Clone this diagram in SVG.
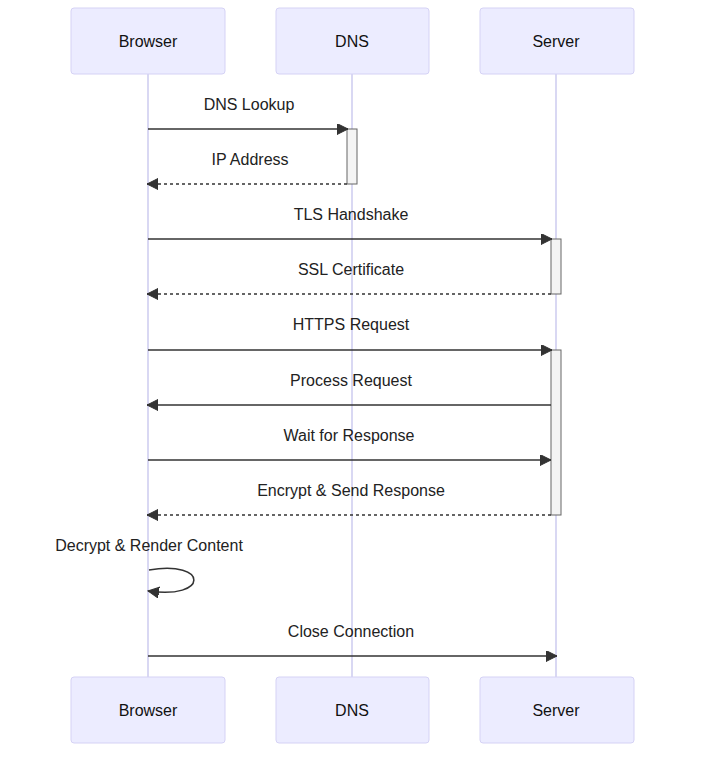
<svg xmlns="http://www.w3.org/2000/svg" width="720" height="775" viewBox="0 0 720 775">
<style>
text{font-family:"Liberation Sans",Arial,sans-serif;fill:#333;}
.actor{fill:#ECECFF;stroke:#D5D2F5;stroke-width:1;}
.atext{font-size:16px;text-anchor:middle;dominant-baseline:central;fill:#111;}
.life{stroke:#CDCBEF;stroke-width:1.5;}
.msg{stroke:#333;stroke-width:1.5;fill:none;}
.dash{stroke-dasharray:3,3;}
.mtext{font-size:16px;text-anchor:middle;dominant-baseline:central;fill:#222;}
.act{fill:#F4F4F4;stroke:#666;stroke-width:1;}
</style>
<defs>
<marker id="arrow" markerUnits="userSpaceOnUse" markerWidth="14" markerHeight="14" refX="11" refY="5.5" orient="auto">
<path d="M0,0 L11,5.5 L0,11 z" fill="#333" stroke="#333" stroke-width="1"/>
</marker>
</defs>
<rect width="720" height="775" fill="#fff"/>
<g id="lifelines">
<line class="life" x1="148" y1="74" x2="148" y2="677"/>
<line class="life" x1="352" y1="74" x2="352" y2="677"/>
<line class="life" x1="556" y1="74" x2="556" y2="677"/>
</g>
<g id="actor-browser-top"><rect class="actor" x="71" y="8" width="154" height="66" rx="3"/><text class="atext" x="148" y="41">Browser</text></g>
<g id="actor-dns-top"><rect class="actor" x="276" y="8" width="153" height="66" rx="3"/><text class="atext" x="352" y="41">DNS</text></g>
<g id="actor-server-top"><rect class="actor" x="480" y="8" width="154" height="66" rx="3"/><text class="atext" x="556" y="41">Server</text></g>
<g id="actor-browser-bottom"><rect class="actor" x="71" y="677" width="154" height="66" rx="3"/><text class="atext" x="148" y="710">Browser</text></g>
<g id="actor-dns-bottom"><rect class="actor" x="276" y="677" width="153" height="66" rx="3"/><text class="atext" x="352" y="710">DNS</text></g>
<g id="actor-server-bottom"><rect class="actor" x="480" y="677" width="154" height="66" rx="3"/><text class="atext" x="556" y="710">Server</text></g>
<g id="activations">
<rect class="act" x="347" y="129" width="10" height="55"/>
<rect class="act" x="551" y="239" width="10" height="55"/>
<rect class="act" x="551" y="350" width="10" height="165"/>
</g>
<g id="connectors">
<line class="msg" x1="148" y1="129" x2="348" y2="129" marker-end="url(#arrow)"/>
<line class="msg dash" x1="347" y1="184" x2="147" y2="184" marker-end="url(#arrow)"/>
<line class="msg" x1="148" y1="239" x2="552" y2="239" marker-end="url(#arrow)"/>
<line class="msg dash" x1="551" y1="294" x2="147" y2="294" marker-end="url(#arrow)"/>
<line class="msg" x1="148" y1="350" x2="552" y2="350" marker-end="url(#arrow)"/>
<line class="msg" x1="551" y1="405" x2="147" y2="405" marker-end="url(#arrow)"/>
<line class="msg" x1="148" y1="460" x2="551" y2="460" marker-end="url(#arrow)"/>
<line class="msg dash" x1="551" y1="515" x2="147" y2="515" marker-end="url(#arrow)"/>
<path class="msg" d="M149,570 C209,560 209,600 148,591" marker-end="url(#arrow)"/>
<line class="msg" x1="148" y1="656" x2="557" y2="656" marker-end="url(#arrow)"/>
</g>
<g id="labels">
<text class="mtext" x="249" y="104">DNS Lookup</text>
<text class="mtext" x="250" y="159">IP Address</text>
<text class="mtext" x="351" y="214">TLS Handshake</text>
<text class="mtext" x="351" y="269">SSL Certificate</text>
<text class="mtext" x="351" y="324">HTTPS Request</text>
<text class="mtext" x="351" y="380">Process Request</text>
<text class="mtext" x="349" y="435">Wait for Response</text>
<text class="mtext" x="351" y="490">Encrypt &amp; Send Response</text>
<text class="mtext" x="149" y="545">Decrypt &amp; Render Content</text>
<text class="mtext" x="351" y="631">Close Connection</text>
</g>
</svg>
